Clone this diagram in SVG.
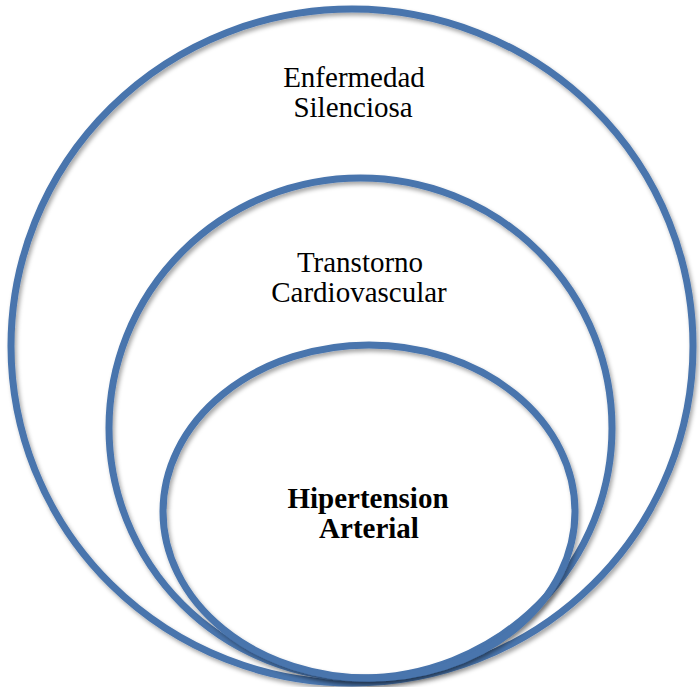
<svg xmlns="http://www.w3.org/2000/svg" width="700" height="687" viewBox="0 0 700 687">
<defs>
<filter id="sh" x="-10%" y="-10%" width="120%" height="120%">
<feDropShadow dx="2" dy="3" stdDeviation="2" flood-color="#000" flood-opacity="0.35"/>
</filter>
<style>
.ring{fill:none;stroke:#4874ad;stroke-width:7;filter:url(#sh)}
.t{font-family:"Liberation Serif","Times New Roman",serif;font-size:29px;fill:#000;text-anchor:middle}
.b{font-weight:bold}
</style>
</defs>
<rect width="700" height="687" fill="#fff"/>
<g id="outer">
<ellipse class="ring" cx="352" cy="346" rx="341" ry="337"/>
<text class="t" x="354" y="87">Enfermedad</text>
<text class="t" x="353" y="117">Silenciosa</text>
</g>
<g id="middle">
<ellipse class="ring" cx="360.5" cy="428" rx="251.5" ry="250"/>
<text class="t" x="360" y="272">Transtorno</text>
<text class="t" x="359" y="302">Cardiovascular</text>
</g>
<g id="inner">
<ellipse class="ring" cx="369" cy="511.5" rx="206" ry="166.5"/>
<text class="t b" x="368" y="508">Hipertension</text>
<text class="t b" x="369" y="538">Arterial</text>
</g>
<g id="connectors"/>
</svg>
